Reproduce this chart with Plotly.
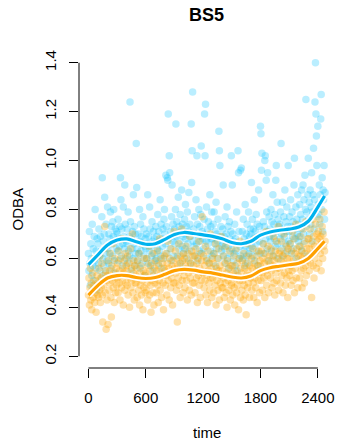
import numpy as np
import plotly.graph_objects as go

# ODBA samples every 5 s (one row per 100 s)
SAMPLE_STEP = 5

odba_blue = [
    0.62, 0.55, 0.71, 0.58, 0.49, 0.66, 0.60, 0.53, 0.74, 0.57, 0.64, 0.51, 0.69, 0.59, 0.80, 0.56, 0.63, 0.47, 0.68, 0.61,
    0.66, 0.58, 0.72, 0.61, 0.55, 0.69, 0.63, 0.52, 0.77, 0.93, 0.60, 0.67, 0.57, 0.70, 0.85, 0.62, 0.54, 0.74, 0.65, 0.59,
    0.81, 0.64, 0.58, 0.70, 0.62, 0.68, 0.79, 0.56, 0.73, 0.66, 0.61, 0.75, 0.69, 0.80, 0.59, 0.67, 0.72, 0.54, 0.64, 0.71,
    0.70, 0.63, 0.76, 0.59, 0.68, 0.65, 0.73, 0.93, 0.84, 0.61, 0.72, 0.57, 0.66, 0.81, 0.69, 0.64, 0.90, 0.74, 0.60, 0.67,
    0.66, 0.72, 0.58, 0.79, 0.63, 0.69, 0.61, 1.24, 0.75, 0.55, 0.68, 0.64, 0.71, 0.60, 0.86, 0.66, 0.73, 0.57, 0.70, 0.62,
    1.07, 0.89, 0.64, 0.59, 0.70, 0.62, 0.67, 0.80, 0.56, 0.74, 0.63, 0.69, 0.58, 0.66, 0.77, 0.61, 0.72, 0.53, 0.65, 0.68,
    0.64, 0.70, 0.60, 0.66, 0.86, 0.58, 0.69, 0.63, 0.81, 0.72, 0.57, 0.65, 0.61, 0.75, 0.67, 0.55, 0.71, 0.62, 0.68, 0.59,
    0.66, 0.73, 0.60, 0.69, 0.64, 0.78, 0.58, 0.71, 0.63, 0.67, 0.84, 0.61, 0.74, 0.56, 0.68, 0.65, 0.72, 0.60, 0.76, 0.80,
    0.70, 0.66, 0.94, 0.73, 0.62, 0.93, 0.92, 1.19, 0.68, 1.02, 0.95, 0.64, 0.71, 0.59, 0.77, 0.90, 0.67, 0.74, 0.61, 0.69,
    0.72, 0.66, 0.80, 1.15, 0.69, 0.75, 0.61, 0.70, 0.85, 0.64, 0.73, 0.67, 0.78, 0.58, 0.71, 0.88, 0.65, 0.74, 0.62, 0.69,
    0.70, 0.76, 0.64, 0.82, 0.68, 0.73, 0.60, 0.79, 0.66, 0.71, 0.87, 0.63, 0.74, 0.69, 0.58, 1.15, 0.91, 1.04, 1.28, 0.67,
    0.72, 0.65, 0.77, 0.61, 0.70, 0.84, 0.66, 1.02, 0.74, 0.59, 0.69, 0.80, 0.63, 0.73, 0.67, 0.78, 1.06, 0.62, 0.71, 0.68,
    0.70, 0.64, 0.76, 1.19, 1.02, 1.23, 0.67, 0.81, 0.60, 0.72, 0.66, 0.75, 0.58, 0.69, 0.86, 0.63, 0.73, 0.68, 0.79, 0.61,
    0.68, 0.74, 0.62, 0.79, 0.66, 0.71, 0.57, 0.83, 0.64, 0.70, 0.67, 0.76, 0.60, 1.12, 1.04, 0.98, 0.69, 0.73, 0.63, 0.65,
    0.66, 0.72, 0.90, 0.61, 0.69, 0.64, 0.77, 0.58, 0.70, 0.67, 0.81, 0.60, 0.73, 0.65, 0.56, 0.75, 0.68, 0.62, 0.71, 1.02,
    0.64, 0.90, 0.70, 0.59, 0.67, 0.62, 0.74, 0.57, 0.68, 0.63, 0.79, 0.55, 0.66, 1.04, 0.95, 0.71, 0.60, 0.65, 0.96, 0.61,
    0.97, 0.66, 0.71, 0.60, 0.76, 0.63, 0.68, 0.57, 0.82, 0.65, 0.70, 0.61, 0.74, 0.58, 0.67, 0.79, 0.62, 0.69, 0.64, 0.72,
    0.70, 0.91, 0.65, 0.76, 0.61, 0.72, 0.68, 0.84, 0.59, 0.71, 0.66, 0.78, 0.63, 0.74, 0.69, 0.57, 0.88, 0.67, 0.73, 0.62,
    1.14, 1.11, 0.96, 1.03, 0.70, 0.66, 0.75, 0.62, 0.73, 1.00, 1.02, 0.68, 0.92, 0.79, 0.64, 0.95, 0.71, 0.59, 0.77, 0.69,
    0.72, 0.67, 0.80, 0.63, 0.75, 0.70, 0.86, 0.61, 0.74, 0.68, 0.78, 0.65, 0.92, 0.98, 0.71, 0.83, 0.66, 0.76, 0.60, 0.73,
    0.74, 0.68, 0.79, 1.07, 0.70, 0.64, 0.83, 0.72, 0.61, 0.77, 0.69, 0.88, 0.66, 0.75, 0.71, 0.81, 0.63, 0.73, 0.98, 0.67,
    0.71, 0.77, 0.66, 0.84, 0.73, 0.62, 0.79, 0.69, 0.75, 0.64, 0.90, 1.01, 0.72, 0.68, 0.81, 0.60, 0.76, 0.70, 0.86, 0.67,
    0.74, 0.69, 0.82, 0.65, 0.78, 0.72, 0.88, 0.63, 0.76, 0.90, 0.70, 0.84, 0.67, 0.94, 0.80, 1.25, 0.73, 0.79, 0.61, 0.86,
    1.01, 0.76, 0.83, 0.70, 0.88, 0.74, 0.81, 0.95, 0.67, 0.79, 0.86, 1.05, 0.72, 0.84, 1.24, 1.40, 1.19, 1.10, 0.98, 0.77,
    1.14, 0.82, 0.78, 0.90, 0.74, 0.86, 1.17, 1.27, 0.80, 0.93, 0.71, 0.88, 0.84, 0.98, 0.76, 0.87,
]

odba_orange = [
    0.45, 0.52, 0.41, 0.48, 0.56, 0.43, 0.50, 0.39, 0.47, 0.54, 0.44, 0.49, 0.60, 0.42, 0.46, 0.51, 0.38, 0.48, 0.53, 0.45,
    0.50, 0.44, 0.56, 0.47, 0.61, 0.42, 0.52, 0.48, 0.58, 0.45, 0.34, 0.53, 0.49, 0.64, 0.73, 0.46, 0.55, 0.31, 0.51, 0.43,
    0.53, 0.33, 0.59, 0.47, 0.55, 0.50, 0.62, 0.44, 0.36, 0.57, 0.51, 0.66, 0.48, 0.54, 0.42, 0.60, 0.52, 0.46, 0.56, 0.49,
    0.52, 0.58, 0.46, 0.63, 0.50, 0.55, 0.43, 0.60, 0.53, 0.48, 0.68, 0.51, 0.56, 0.41, 0.54, 0.59, 0.47, 0.62, 0.50, 0.57,
    0.55, 0.49, 0.61, 0.45, 0.53, 0.58, 0.40, 0.52, 0.64, 0.48, 0.56, 0.51, 0.70, 0.46, 0.54, 0.59, 0.43, 0.57, 0.50, 0.53,
    0.50, 0.56, 0.44, 0.59, 0.52, 0.47, 0.62, 0.41, 0.54, 0.49, 0.57, 0.45, 0.66, 0.51, 0.39, 0.55, 0.48, 0.60, 0.53, 0.46,
    0.54, 0.47, 0.60, 0.50, 0.43, 0.57, 0.52, 0.65, 0.45, 0.55, 0.49, 0.38, 0.58, 0.51, 0.62, 0.46, 0.53, 0.41, 0.56, 0.50,
    0.52, 0.59, 0.46, 0.55, 0.63, 0.49, 0.42, 0.57, 0.51, 0.68, 0.47, 0.54, 0.60, 0.44, 0.53, 0.58, 0.50, 0.39, 0.56, 0.61,
    0.55, 0.49, 0.62, 0.53, 0.45, 0.58, 0.67, 0.51, 0.56, 0.43, 0.60, 0.54, 0.48, 0.64, 0.52, 0.57, 0.41, 0.59, 0.50, 0.71,
    0.56, 0.50, 0.63, 0.54, 0.47, 0.60, 0.34, 0.57, 0.52, 0.66, 0.49, 0.58, 0.44, 0.61, 0.55, 0.72, 0.51, 0.59, 0.46, 0.62,
    0.53, 0.60, 0.48, 0.57, 0.65, 0.51, 0.56, 0.43, 0.62, 0.54, 0.59, 0.47, 0.69, 0.52, 0.58, 0.45, 0.63, 0.55, 0.50, 0.61,
    0.57, 0.50, 0.61, 0.46, 0.55, 0.64, 0.52, 0.58, 0.42, 0.60, 0.53, 0.67, 0.49, 0.56, 0.44, 0.62, 0.51, 0.59, 0.77, 0.54,
    0.54, 0.61, 0.48, 0.57, 0.51, 0.65, 0.45, 0.59, 0.53, 0.42, 0.63, 0.55, 0.50, 0.58, 0.47, 0.70, 0.52, 0.56, 0.44, 0.60,
    0.52, 0.58, 0.46, 0.62, 0.54, 0.49, 0.66, 0.41, 0.56, 0.51, 0.60, 0.47, 0.55, 0.64, 0.43, 0.57, 0.50, 0.53, 0.69, 0.48,
    0.55, 0.48, 0.61, 0.52, 0.44, 0.58, 0.50, 0.65, 0.46, 0.54, 0.40, 0.59, 0.51, 0.56, 0.47, 0.63, 0.53, 0.43, 0.57, 0.49,
    0.50, 0.57, 0.45, 0.54, 0.61, 0.48, 0.41, 0.55, 0.52, 0.64, 0.46, 0.58, 0.49, 0.53, 0.39, 0.60, 0.51, 0.67, 0.44, 0.56,
    0.54, 0.47, 0.59, 0.51, 0.43, 0.62, 0.49, 0.56, 0.45, 0.58, 0.37, 0.53, 0.66, 0.48, 0.55, 0.50, 0.61, 0.44, 0.57, 0.52,
    0.53, 0.60, 0.47, 0.56, 0.64, 0.50, 0.44, 0.58, 0.52, 0.68, 0.48, 0.55, 0.61, 0.42, 0.57, 0.51, 0.63, 0.54, 0.46, 0.59,
    0.57, 0.51, 0.63, 0.54, 0.47, 0.60, 0.66, 0.52, 0.58, 0.44, 0.62, 0.55, 0.71, 0.49, 0.59, 0.53, 0.65, 0.46, 0.56, 0.61,
    0.58, 0.52, 0.64, 0.55, 0.48, 0.61, 0.57, 0.69, 0.50, 0.59, 0.45, 0.63, 0.54, 0.67, 0.51, 0.60, 0.56, 0.73, 0.47, 0.62,
    0.56, 0.63, 0.50, 0.59, 0.67, 0.53, 0.61, 0.46, 0.58, 0.70, 0.54, 0.62, 0.49, 0.57, 0.65, 0.52, 0.60, 0.44, 0.64, 0.55,
    0.60, 0.53, 0.66, 0.57, 0.49, 0.63, 0.55, 0.71, 0.51, 0.59, 0.68, 0.46, 0.62, 0.56, 0.74, 0.52, 0.64, 0.58, 0.48, 0.61,
    0.58, 0.65, 0.52, 0.61, 0.69, 0.55, 0.63, 0.48, 0.60, 0.72, 0.56, 0.66, 0.50, 0.62, 0.57, 0.75, 0.53, 0.64, 0.59, 0.68,
    0.61, 0.68, 0.55, 0.64, 0.72, 0.58, 0.66, 0.44, 0.62, 0.76, 0.57, 0.69, 0.52, 0.65, 0.60, 0.74, 0.63, 0.56, 0.70, 0.67,
    0.64, 0.71, 0.58, 0.68, 0.76, 0.62, 0.69, 0.55, 0.66, 0.73, 0.60, 0.70, 0.65, 0.79, 0.63, 0.67,
]

# smooth fits (time in s)
fit_time = [0, 100, 200, 300, 400, 500, 600, 700, 800, 900, 1000, 1100, 1200,
            1300, 1400, 1500, 1600, 1700, 1800, 1900, 2000, 2100, 2200, 2300, 2400, 2470]
fit_blue = [0.575, 0.615, 0.655, 0.675, 0.680, 0.668, 0.658, 0.660, 0.678, 0.698, 0.706, 0.702, 0.696,
            0.690, 0.680, 0.665, 0.660, 0.670, 0.695, 0.708, 0.715, 0.720, 0.728, 0.752, 0.810, 0.855]
fit_orange = [0.450, 0.490, 0.520, 0.530, 0.530, 0.522, 0.518, 0.522, 0.535, 0.550, 0.555, 0.552, 0.545,
              0.540, 0.532, 0.524, 0.520, 0.528, 0.550, 0.562, 0.568, 0.574, 0.580, 0.600, 0.640, 0.670]

x_ticks = [0, 600, 1200, 1800, 2400]
y_ticks = [0.2, 0.4, 0.6, 0.8, 1.0, 1.2, 1.4]
y_ticktext = ["0.2", "0.4", "0.6", "0.8", "1.0", "1.2", "1.4"]

t_blue = np.arange(len(odba_blue)) * SAMPLE_STEP
t_orange = np.arange(len(odba_orange)) * SAMPLE_STEP

FONT = "Liberation Sans, Arial, Helvetica, sans-serif"
BLUE_PT = "rgba(0,191,255,0.27)"
ORANGE_PT = "rgba(255,165,0,0.32)"
BLUE_LINE = "#00B2EE"
ORANGE_LINE = "#FFA000"

fig = go.Figure()
fig.add_trace(go.Scatter(x=t_blue, y=odba_blue, mode="markers",
                         marker=dict(size=7.5, color=BLUE_PT, line=dict(width=0))))
fig.add_trace(go.Scatter(x=t_orange, y=odba_orange, mode="markers",
                         marker=dict(size=7.5, color=ORANGE_PT, line=dict(width=0))))
for fy, col in ((fit_blue, BLUE_LINE), (fit_orange, ORANGE_LINE)):
    fig.add_trace(go.Scatter(x=fit_time, y=fy, mode="lines",
                             line=dict(color="white", width=6.5, shape="spline", smoothing=1.0)))
    fig.add_trace(go.Scatter(x=fit_time, y=fy, mode="lines",
                             line=dict(color=col, width=3.2, shape="spline", smoothing=1.0)))

axis_font = dict(family=FONT, size=15, color="black")
fig.update_layout(
    width=337, height=441,
    margin=dict(l=79, r=3, t=51, b=73),
    paper_bgcolor="white", plot_bgcolor="white",
    showlegend=False, hovermode=False,
    xaxis=dict(range=[-98.8, 2569], tickvals=x_ticks, ticks="outside", ticklen=9,
               tickwidth=1, tickcolor="black", showgrid=False, zeroline=False,
               showline=False, tickfont=axis_font, ticklabelstandoff=7),
    yaxis=dict(range=[0.152, 1.448], tickvals=y_ticks, ticktext=y_ticktext,
               ticks="outside", ticklen=9, tickwidth=1, tickcolor="black",
               showgrid=False, zeroline=False, showline=False, tickangle=-90,
               tickfont=axis_font, ticklabelstandoff=7),
    shapes=[
        dict(type="line", xref="x", yref="paper", x0=0, x1=2400, y0=0, y1=0,
             line=dict(color="black", width=1)),
        dict(type="line", xref="paper", yref="y", x0=0, x1=0, y0=0.2, y1=1.4,
             line=dict(color="black", width=1)),
    ],
    annotations=[
        dict(text="<b>BS5</b>", xref="paper", yref="paper", x=0.5, y=1.1136,
             showarrow=False, xanchor="center", yanchor="middle",
             font=dict(family=FONT, size=18, color="black")),
        dict(text="time", xref="paper", yref="paper", x=0.5, y=-0.205,
             showarrow=False, xanchor="center", yanchor="middle", font=axis_font),
        dict(text="ODBA", xref="paper", yref="paper", x=-0.243, y=0.5, textangle=-90,
             showarrow=False, xanchor="center", yanchor="middle", font=axis_font),
    ],
)

fig.write_html("out.html")
